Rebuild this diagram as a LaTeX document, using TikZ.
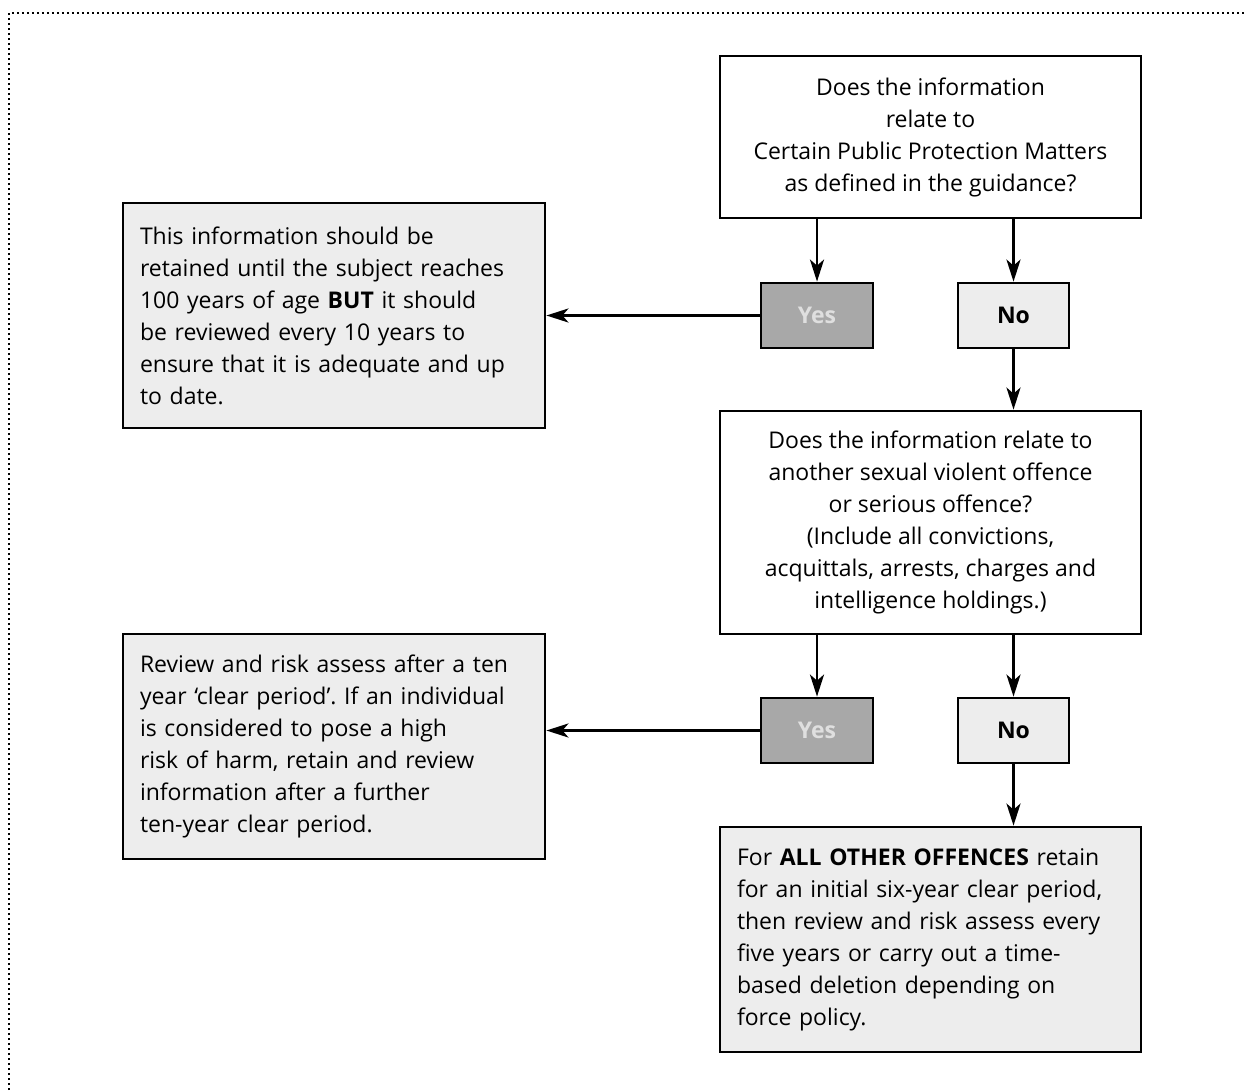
\documentclass[tikz,border=0pt]{standalone}
\usepackage{fontspec}
\setmainfont{Open Sans}
\usetikzlibrary{arrows.meta}
\begin{document}
\frenchspacing
\begin{tikzpicture}[x=1pt,y=-1pt,
  txt/.style={font=\fontsize{23}{32}\selectfont},
  qbox/.style={draw,line width=2.8pt,fill=white,txt,align=center,inner sep=0pt},
  abox/.style={draw,line width=2.8pt,fill=gray!14,txt,align=left,inner sep=0pt},
  yesbox/.style={draw,line width=2.8pt,fill=gray!68,text=gray!25,font=\fontsize{23}{26}\selectfont\bfseries,minimum width=112pt,minimum height=65pt,inner sep=0pt},
  nobox/.style={draw,line width=2.8pt,fill=gray!14,font=\fontsize{23}{26}\selectfont\bfseries,minimum width=111pt,minimum height=65pt,inner sep=0pt},
  arr/.style={line width=2.8pt,-{Stealth[length=22pt,width=14pt,inset=6pt]}},
  frame/.style={line width=2.2pt,dash pattern=on 2pt off 3pt,black}
]
\useasboundingbox (0,0) rectangle (1245,1090);
\draw[frame] (9,1090) -- (9,13) -- (1245,13);

\node[qbox,minimum width=421pt,minimum height=162pt] (q1) at (930.5,137)
  {Does the information\\relate to\\Certain Public Protection Matters\\as defined in the guidance?};
\node[yesbox] (y1) at (817,315.5) {Yes};
\node[nobox] (n1) at (1013.5,315.5) {No};
\node[abox,minimum width=422pt,minimum height=225pt,text width=388pt] (a) at (334,315.5)
  {This information should be\\retained until the subject reaches\\100 years of age \textbf{BUT} it should\\be reviewed every 10 years to\\ensure that it is adequate and up\\to date.};

\node[qbox,minimum width=421pt,minimum height=223pt] (q2) at (930.5,522.5)
  {Does the information relate to\\another sexual violent offence\\or serious offence?\\(Include all convictions,\\acquittals, arrests, charges and\\intelligence holdings.)};
\node[yesbox] (y2) at (817,730.5) {Yes};
\node[nobox] (n2) at (1013.5,730.5) {No};
\node[abox,minimum width=422pt,minimum height=225pt,text width=388pt] (b) at (334,746.5)
  {Review and risk assess after a ten\\year `clear period'. If an individual\\is considered to pose a high\\risk of harm, retain and review\\information after a further\\ten-year clear period.};
\node[abox,minimum width=421pt,minimum height=225pt,text width=387pt] (c) at (930.5,939.5)
  {For \textbf{ALL OTHER OFFENCES} retain\\for an initial six-year clear period,\\then review and risk assess every\\five years or carry out a time-\\based deletion depending on\\force policy.};

\draw[arr] (q1.south -| y1.north) -- (y1.north);
\draw[arr] (q1.south -| n1.north) -- (n1.north);
\draw[arr] (y1.west) -- (y1.west -| a.east);
\draw[arr] (n1.south) -- (n1.south |- q2.north);
\draw[arr] (q2.south -| y2.north) -- (y2.north);
\draw[arr] (q2.south -| n2.north) -- (n2.north);
\draw[arr] (y2.west) -- (y2.west -| b.east);
\draw[arr] (n2.south) -- (n2.south |- c.north);
\end{tikzpicture}
\end{document}
